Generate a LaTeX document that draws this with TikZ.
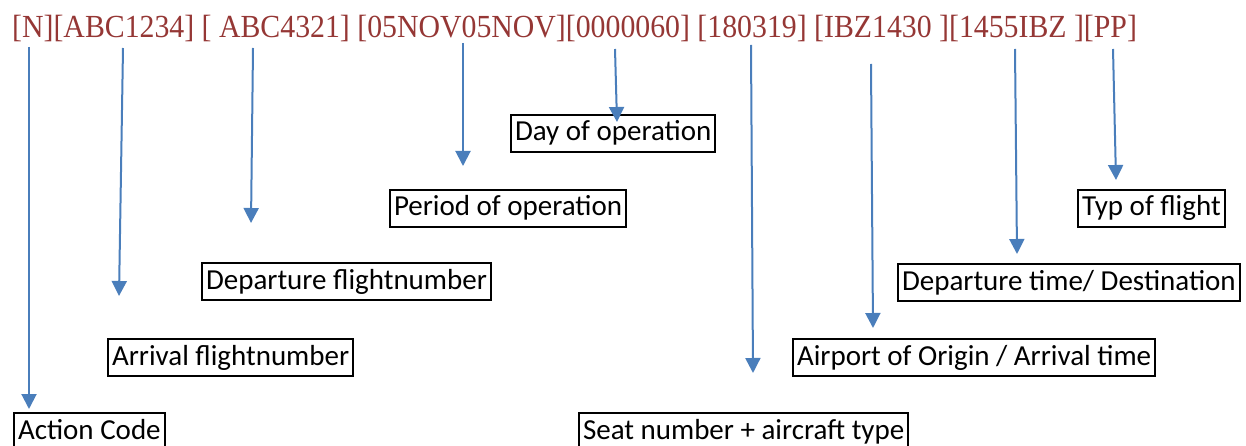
\documentclass[tikz,border=0pt]{standalone}
\usepackage{fontspec}
\setmainfont{Carlito}
\newfontfamily\recfont{Liberation Serif}
\usetikzlibrary{arrows.meta}
\definecolor{recred}{HTML}{953735}
\definecolor{arrowblue}{HTML}{4A7EBB}

\begin{document}
\begin{tikzpicture}[
        x=1pt, y=-1pt,
        every node/.style={inner sep=0pt},
        ]
        \tikzstyle{field} = [draw, line width=2pt, anchor=north west, font={\fontsize{29}{31}\selectfont}, inner xsep=4pt, inner ysep=5pt, text height=21pt, text depth=6pt];
        \tikzstyle{pointer} = [draw=arrowblue, line width=2pt, -{Triangle[width=15pt,length=15pt]}];
        \useasboundingbox (0,0) rectangle (1246,446);
        % the record line
        \node [anchor=base west, text=recred, font={\recfont\fontsize{29.8}{32}\selectfont}] (record) at (12,38)
            {\scalebox{1}[1.08]{[N][ABC1234] [ ABC4321] [05NOV05NOV][0000060] [180319] [IBZ1430 ][1455IBZ ][PP]}};
        % the fields
        \node [field] (action) at (13,412) {Action Code};
        \node [field] (arrival) at (107,338) {Arrival flightnumber};
        \node [field] (depflight) at (201,262) {Departure flightnumber};
        \node [field] (period) at (389,189) {Period of operation};
        \node [field] (dayop) at (510,114) {Day of operation};
        \node [field] (seat) at (578,412) {Seat number + aircraft type};
        \node [field] (airport) at (792,338) {Airport of Origin / Arrival time};
        \node [field] (deptime) at (897,263) {Departure time/ Destination};
        \node [field] (flighttype) at (1077,189) {Typ of flight};
        % pointers from the record to the fields
        \foreach \n/\sx/\sy/\tx/\ty in {action/29/47/29/409, arrival/123/48/119/296,
                depflight/253/48/251/223, period/463/43/463/166, dayop/615/49/617/122,
                seat/751/45/753/373, airport/871/64/873/328, deptime/1015/49/1017/254,
                flighttype/1113/49/1116/180} {
            \coordinate (\n-from) at (\sx,\sy);
            \coordinate (\n-to) at (\tx,\ty);
            \draw [pointer] (\n-from) -- (\n-to);
        }
\end{tikzpicture}
\end{document}
